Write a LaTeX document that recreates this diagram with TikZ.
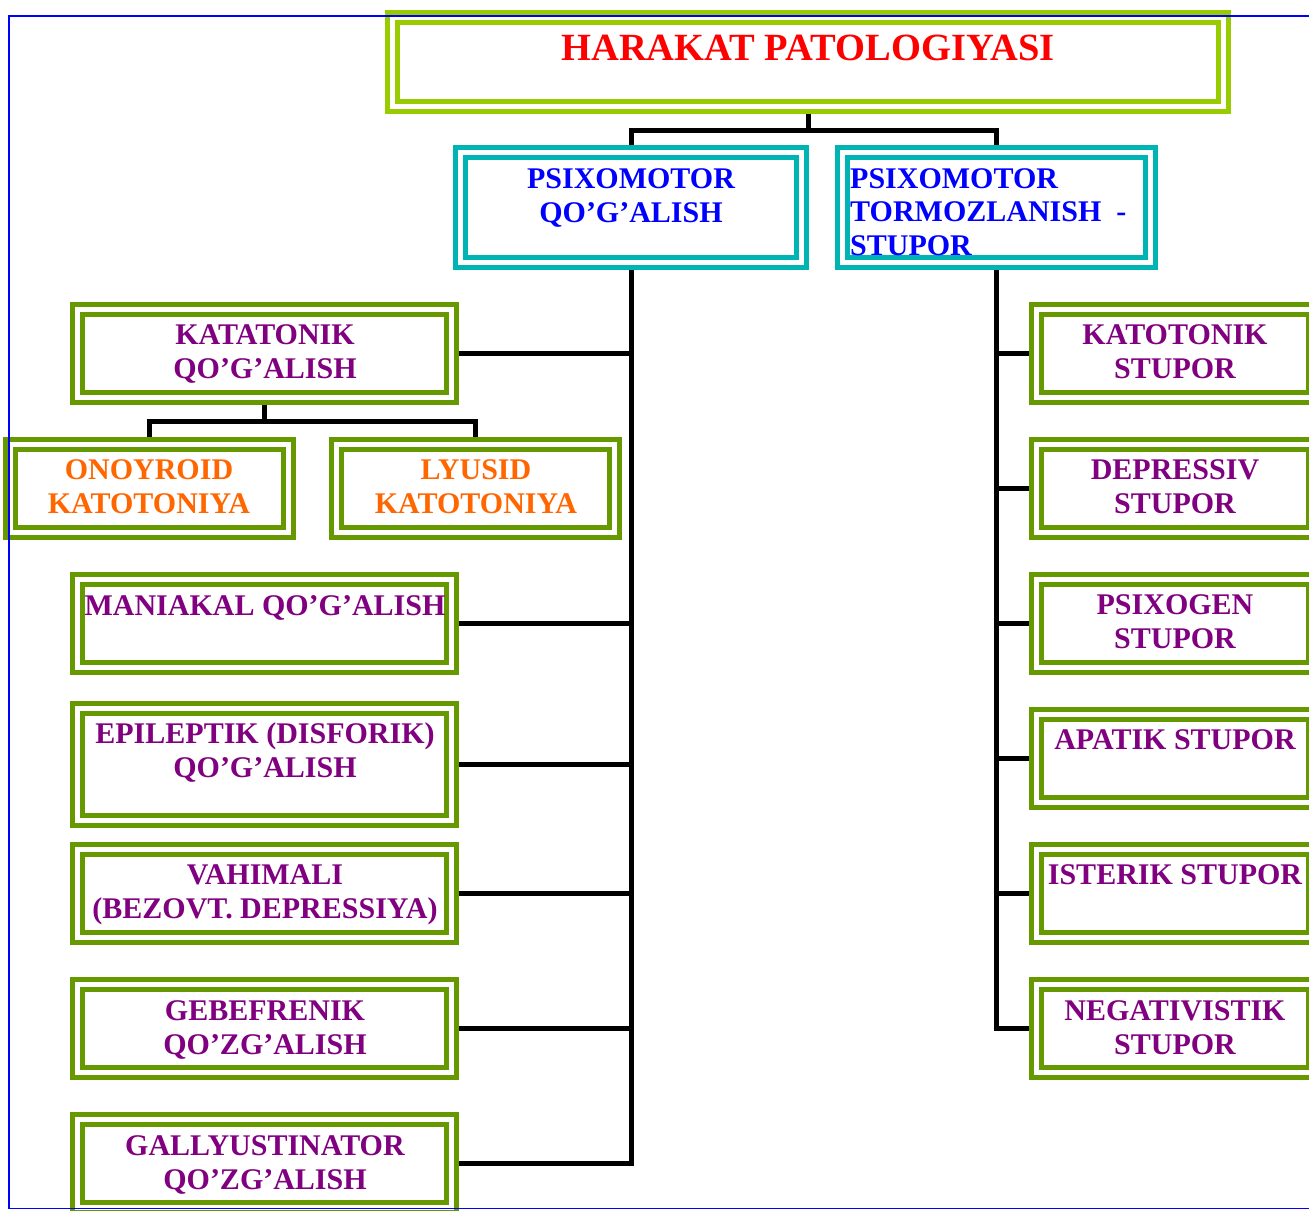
\documentclass[tikz,border=0pt]{standalone}
\usepackage{fontspec}
\setmainfont{Liberation Serif}
\usetikzlibrary{backgrounds}
\definecolor{topgreen}{HTML}{99CC00}
\definecolor{boxgreen}{HTML}{669900}
\definecolor{tealc}{HTML}{00B4B4}
\definecolor{txtred}{HTML}{FF0000}
\definecolor{txtblue}{HTML}{0000FF}
\definecolor{txtpurple}{HTML}{800080}
\definecolor{txtorange}{HTML}{FF6600}
\definecolor{frameblue}{HTML}{0000FF}
\begin{document}
\begin{tikzpicture}[x=1pt,y=-1pt,
  dbox/.style={rectangle, draw=#1, line width=5pt, double=white, double distance=5pt, fill=white, inner sep=0pt},
  gbox/.style={dbox=boxgreen, minimum height=88pt},
  lbox/.style={gbox, minimum width=374pt},
  rbox/.style={gbox, minimum width=277pt},
  conn/.style={draw=black, line width=5pt, line join=miter},
  lbl/.style={inner sep=0pt, anchor=north, align=center, font=\fontsize{30}{34.5}\selectfont\bfseries},
  ptxt/.style={lbl, text=txtpurple},
  otxt/.style={lbl, text=txtorange},
  btxt/.style={lbl, text=txtblue}]
\useasboundingbox (0,0) rectangle (1309,1210);
\clip (0,0) rectangle (1309,1210);

% top
\node[dbox=topgreen, minimum width=831pt, minimum height=89pt] (top) at (808,62) {};
\node[lbl, text=txtred, font=\fontsize{38.5}{44}\selectfont\bfseries] (topT) at (808,35.3) {HARAKAT PATOLOGIYASI};

% second level
\node[dbox=tealc, minimum width=341pt, minimum height=110pt] (pq) at (631,207.5) {};
\node[btxt] (pqT) at (631,168.1) {PSIXOMOTOR\\QO’G’ALISH};
\node[dbox=tealc, minimum width=308pt, minimum height=110pt] (pt) at (996.5,207.5) {};
\node[btxt, anchor=north west, align=left, font=\fontsize{30}{33.5}\selectfont\bfseries] (ptT) at (850,168.1) {PSIXOMOTOR\\TORMOZLANISH\ \ -\\STUPOR};

% left column
\node[lbox] (kq) at (264.5,353.5) {};
\node[ptxt] (kqT) at (265,324.1) {KATATONIK\\QO’G’ALISH};
\node[gbox, minimum width=278pt] (on) at (149.5,488.5) {};
\node[otxt] (onT) at (149,459.1) {ONOYROID\\KATOTONIYA};
\node[gbox, minimum width=278pt] (ly) at (475.5,488.5) {};
\node[otxt] (lyT) at (476,459.1) {LYUSID\\KATOTONIYA};
\node[lbox] (mq) at (264.5,623.5) {};
\node[ptxt] (mqT) at (265,595.1) {MANIAKAL QO’G’ALISH};
\node[lbox, minimum height=112pt] (eq) at (264.5,764.5) {};
\node[ptxt] (eqT) at (265,722.1) {EPILEPTIK (DISFORIK)\\QO’G’ALISH};
\node[lbox] (vb) at (264.5,893.5) {};
\node[ptxt] (vbT) at (265,864.1) {VAHIMALI\\(BEZOVT. DEPRESSIYA)};
\node[lbox] (gq) at (264.5,1028.5) {};
\node[ptxt] (gqT) at (265,1000.1) {GEBEFRENIK\\QO’ZG’ALISH};
\node[lbox] (gaq) at (264.5,1163.5) {};
\node[ptxt] (gaqT) at (265,1135.1) {GALLYUSTINATOR\\QO’ZG’ALISH};

% right column
\node[rbox] (rs1) at (1175,353.5) {};
\node[ptxt] (rs1T) at (1175,324.1) {KATOTONIK\\STUPOR};
\node[rbox] (rs2) at (1175,488.5) {};
\node[ptxt] (rs2T) at (1175,459.1) {DEPRESSIV\\STUPOR};
\node[rbox] (rs3) at (1175,623.5) {};
\node[ptxt] (rs3T) at (1175,594.1) {PSIXOGEN\\STUPOR};
\node[rbox] (rs4) at (1175,758.5) {};
\node[ptxt] (rs4T) at (1175,729.1) {APATIK STUPOR};
\node[rbox] (rs5) at (1175,893.5) {};
\node[ptxt] (rs5T) at (1175,864.1) {ISTERIK STUPOR};
\node[rbox] (rs6) at (1175,1028.5) {};
\node[ptxt] (rs6T) at (1175,1000.1) {NEGATIVISTIK\\STUPOR};

% connectors
\begin{scope}[on background layer]
  \coordinate (tj) at (808,130.5);
  \draw[conn] (top.south) -- (tj);
  \draw[conn] (pq.north) |- (tj) -| (pt.north);
  \draw[conn] (pq.south) |- (gaq.east);
  \foreach \n in {kq,mq,eq,vb,gq} \draw[conn] (\n.east) -- (\n.east -| pq.south);
  \draw[conn] (pt.south) |- (rs6.west);
  \foreach \n in {rs1,rs2,rs3,rs4,rs5} \draw[conn] (\n.west) -- (\n.west -| pt.south);
  \coordinate (kj) at (264.5,421.5);
  \draw[conn] (kq.south) -- (kj);
  \draw[conn] (on.north) |- (kj) -| (ly.north);
\end{scope}

% outer frame
\draw[frameblue, line width=1.8pt] (1320,16) -- (9,16) -- (9,1208.5) -- (1320,1208.5);
\end{tikzpicture}
\end{document}
